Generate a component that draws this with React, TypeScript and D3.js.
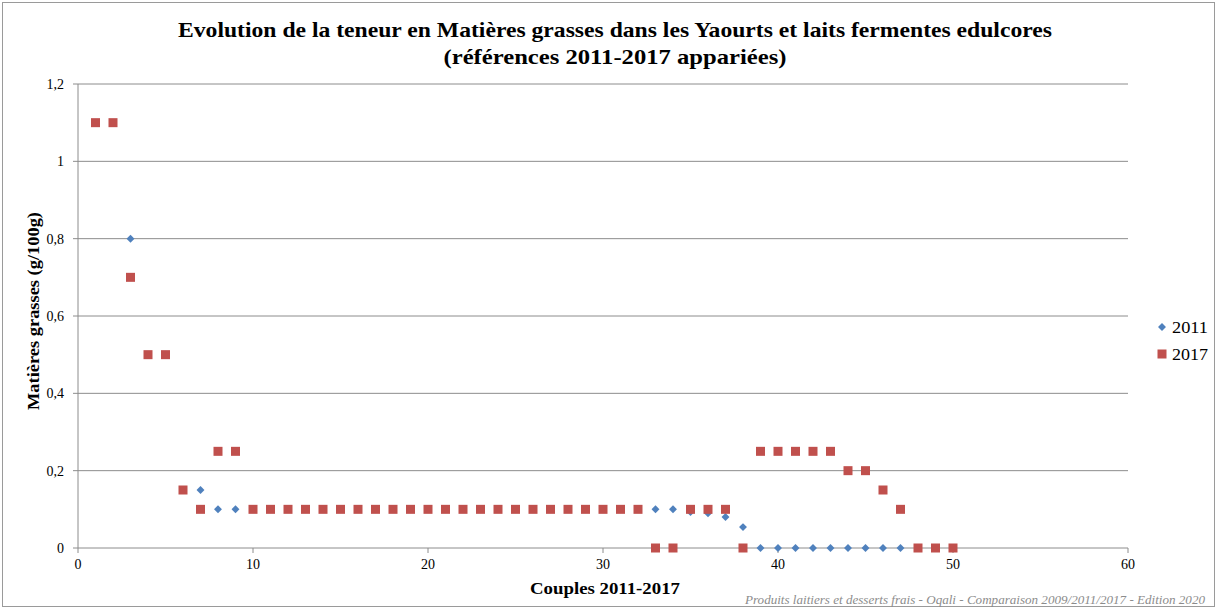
import React from "react";
import * as d3 from "d3";

const couples: number[] = Array.from({ length: 50 }, (_, i) => i + 1);
const values2011: number[] = [
  1.1, 1.1, 0.8, 0.5, 0.5, 0.15, 0.15, 0.1, 0.1, 0.1,
  0.1, 0.1, 0.1, 0.1, 0.1, 0.1, 0.1, 0.1, 0.1, 0.1,
  0.1, 0.1, 0.1, 0.1, 0.1, 0.1, 0.1, 0.1, 0.1, 0.1,
  0.1, 0.1, 0.1, 0.1, 0.093, 0.09, 0.08, 0.054, 0, 0,
  0, 0, 0, 0, 0, 0, 0, 0, 0, 0,
];
const values2017: number[] = [
  1.1, 1.1, 0.7, 0.5, 0.5, 0.15, 0.1, 0.25, 0.25, 0.1,
  0.1, 0.1, 0.1, 0.1, 0.1, 0.1, 0.1, 0.1, 0.1, 0.1,
  0.1, 0.1, 0.1, 0.1, 0.1, 0.1, 0.1, 0.1, 0.1, 0.1,
  0.1, 0.1, 0, 0, 0.1, 0.1, 0.1, 0, 0.25, 0.25,
  0.25, 0.25, 0.25, 0.2, 0.2, 0.15, 0.1, 0, 0, 0,
];
const yTicks: number[] = [0, 0.2, 0.4, 0.6, 0.8, 1, 1.2];
const xTicks: number[] = [0, 10, 20, 30, 40, 50, 60];
const seriesNames: string[] = ["2011", "2017"];
const titleLines: string[] = [
  "Evolution de la teneur en Matières grasses dans les Yaourts et laits fermentes edulcores",
  "(références 2011-2017 appariées)",
];

const W = 1217;
const H = 608;
const left = 78, right = 1128, top = 84, bottom = 548;
const BLUE = "#4F81BD";
const RED = "#C0504D";
const FONT = "'Liberation Serif', 'DejaVu Serif', serif";

export default function App() {
  const x = d3.scaleLinear().domain([0, 60]).range([left, right]);
  const y = d3.scaleLinear().domain([0, 1.2]).range([bottom, top]);
  const fmt = (v: number) => String(+v.toFixed(1)).replace(".", ",");
  const diamond = d3.symbol().type(d3.symbolDiamond2).size(40)() as string;
  const titleLens = [874, 343];

  return (
    <svg width={W} height={H} style={{ position: "absolute", left: 0, top: 0, background: "#fff" }} fontFamily={FONT}>
      <rect x={2.5} y={2.5} width={W - 5} height={H - 4} fill="#fff" stroke="#9a9a9a" />
      {titleLines.map((t, i) => (
        <text key={i} x={615} y={37 + i * 27} textAnchor="middle" fontWeight="bold" fontSize={21} fill="#000"
          textLength={titleLens[i]} lengthAdjust="spacingAndGlyphs">
          {t}
        </text>
      ))}
      {yTicks.map((v) => (
        <g key={v}>
          <line x1={left - 5} x2={right} y1={y(v)} y2={y(v)} stroke="#8c8c8c" strokeWidth={1} />
          <text x={64} y={y(v) + 5} textAnchor="end" fontSize={14} fill="#000">{fmt(v)}</text>
        </g>
      ))}
      <line x1={left} x2={left} y1={top} y2={bottom} stroke="#8c8c8c" />
      {xTicks.map((v) => (
        <g key={v}>
          <line x1={x(v)} x2={x(v)} y1={bottom} y2={bottom + 5} stroke="#8c8c8c" />
          <text x={x(v)} y={bottom + 21} textAnchor="middle" fontSize={14} fill="#000">{v}</text>
        </g>
      ))}
      <text x={605} y={594} textAnchor="middle" fontWeight="bold" fontSize={17}
        textLength={150} lengthAdjust="spacingAndGlyphs">Couples 2011-2017</text>
      <text transform={`translate(39,${311}) rotate(-90)`} textAnchor="middle" fontWeight="bold" fontSize={17}
        textLength={198} lengthAdjust="spacingAndGlyphs">
        Matières grasses (g/100g)
      </text>
      {couples.map((c, i) => (
        <path key={"a" + c} d={diamond} transform={`translate(${x(c)},${y(values2011[i])})`} fill={BLUE} />
      ))}
      {couples.map((c, i) => (
        <rect key={"b" + c} x={x(c) - 4.5} y={y(values2017[i]) - 4.5} width={9} height={9} fill={RED} />
      ))}
      <path d={diamond} transform={`translate(1162,327)`} fill={BLUE} />
      <text x={1172} y={333} fontSize={17} textLength={36} lengthAdjust="spacingAndGlyphs">{seriesNames[0]}</text>
      <rect x={1157.5} y={349.5} width={9} height={9} fill={RED} />
      <text x={1172} y={360} fontSize={17} textLength={36} lengthAdjust="spacingAndGlyphs">{seriesNames[1]}</text>
      <text x={1205} y={604} textAnchor="end" fontStyle="italic" fontSize={12} fill="#8c8c8c"
        textLength={460} lengthAdjust="spacingAndGlyphs">
        Produits laitiers et desserts frais - Oqali - Comparaison 2009/2011/2017  - Edition 2020
      </text>
    </svg>
  );
}
